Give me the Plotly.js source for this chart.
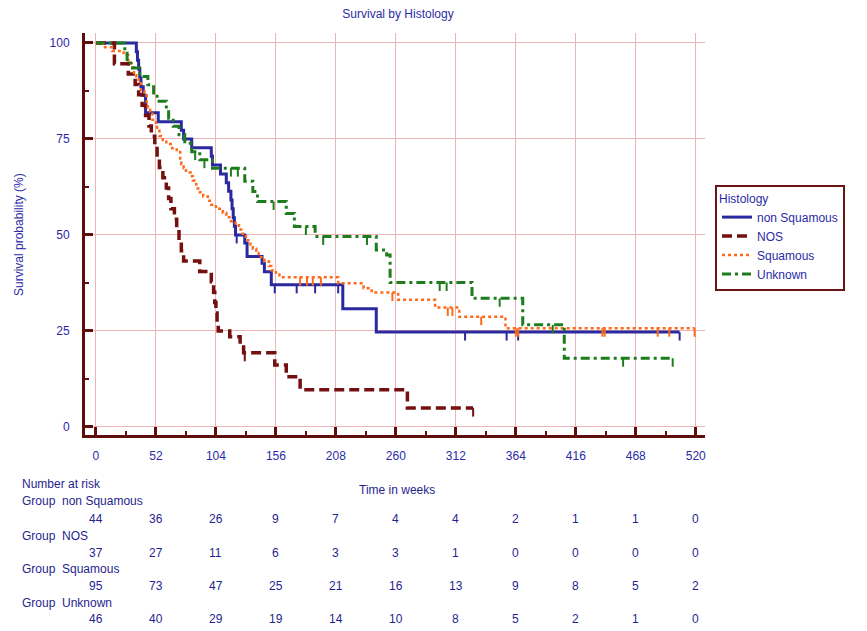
<!DOCTYPE html>
<html>
<head>
<meta charset="utf-8">
<script src="https://cdn.plot.ly/plotly-3.0.1.min.js"></script>
<style>html,body{margin:0;padding:0;background:#fff;}#chart{width:867px;height:631px;}</style>
</head>
<body>
<div id="chart"></div>
<script>
// ---- data ----
const weekTicks = [0, 52, 104, 156, 208, 260, 312, 364, 416, 468, 520];
const survTicks = [0, 25, 50, 75, 100];
const groupNames = ["non Squamous", "NOS", "Squamous", "Unknown"];

const nonSqTimes = [0, 35, 36, 37, 38, 39, 41, 43, 54, 74, 76, 83, 100, 101, 108, 113, 115, 117, 118, 119, 120, 121, 129, 131, 144, 146, 152, 214, 243, 506];
const nonSqSurv  = [100, 97.7, 95.5, 93.2, 90.9, 88.6, 86.4, 81.8, 79.5, 77.3, 75.0, 72.7, 70.5, 68.2, 65.9, 63.6, 61.4, 59.1, 56.8, 54.5, 52.3, 50.0, 47.9, 44.4, 42.6, 40.4, 37.0, 30.8, 24.7, 24.7];
const nonSqCensor = [122, 155, 174, 190, 210, 320, 356, 366, 506];

const nosTimes = [0, 16, 28, 34, 37, 40, 43, 46, 48, 51, 53, 55, 58, 61, 63, 65, 68, 70, 72, 74, 76, 90, 100, 102, 103, 104, 105, 106, 116, 125, 128, 155, 165, 177, 270, 327];
const nosSurv  = [100, 94.6, 91.9, 89.2, 86.5, 83.8, 81.1, 78.4, 75.7, 73.0, 70.3, 67.6, 64.9, 62.2, 59.5, 56.8, 54.1, 51.4, 48.6, 45.9, 43.2, 40.5, 37.8, 35.1, 32.4, 29.7, 27.0, 25.0, 23.5, 21.4, 19.3, 16.1, 13.1, 9.7, 4.9, 4.9];
const nosCensor = [129, 327];

const sqTimes = [0, 6, 14, 24, 28, 31, 33, 35, 37, 39, 42, 44, 45, 47, 49, 52, 53, 55, 58, 61, 66, 70, 73, 74, 76, 78, 82, 84, 87, 90, 93, 97, 100, 104, 110, 113, 117, 121, 124, 127, 130, 134, 136, 139, 141, 146, 150, 152, 156, 159, 210, 232, 239, 262, 294, 315, 355, 519];
const sqSurv  = [100, 98.9, 97.9, 96.8, 94.7, 93.7, 91.6, 90.5, 89.5, 87.4, 86.3, 84.2, 83.2, 82.1, 80.0, 78.9, 77.9, 75.8, 74.7, 73.7, 72.6, 71.6, 69.5, 68.4, 67.4, 66.3, 65.3, 64.2, 62.1, 61.1, 60.0, 58.9, 57.9, 56.8, 55.7, 54.6, 53.6, 52.5, 51.4, 50.3, 48.6, 47.5, 46.4, 45.3, 44.2, 43.1, 41.9, 40.8, 39.7, 39.0, 37.4, 36.1, 35.0, 33.1, 31.1, 28.7, 25.7, 25.7];
const sqCensor = [177, 183, 188, 195, 257, 305, 309, 334, 364, 366, 439, 441, 487, 497, 519];

const unkTimes = [0, 25, 27, 30, 38, 45, 50, 53, 61, 63, 67, 72, 77, 83, 90, 101, 129, 136, 140, 165, 172, 190, 243, 252, 255, 326, 370, 406, 500];
const unkSurv  = [100, 97.8, 95.7, 93.5, 91.3, 89.1, 87.0, 84.8, 82.6, 80.4, 78.3, 76.1, 73.9, 71.7, 69.6, 67.4, 64.0, 61.3, 58.7, 55.6, 52.2, 49.6, 46.1, 44.8, 37.6, 33.5, 26.6, 17.9, 17.9];
const unkCensor = [86, 94, 117, 123, 154, 182, 197, 235, 298, 304, 350, 396, 457, 500];

const riskNonSq = [44, 36, 26, 9, 7, 4, 4, 2, 1, 1, 0];
const riskNOS   = [37, 27, 11, 6, 3, 3, 1, 0, 0, 0, 0];
const riskSq    = [95, 73, 47, 25, 21, 16, 13, 9, 8, 5, 2];
const riskUnk   = [46, 40, 29, 19, 14, 10, 8, 5, 2, 1, 0];

// ---- styles ----
const FONT = "Liberation Sans, Arial, sans-serif";
const TXT = "#2b2ba6";
const TABLE_TXT = "#1f1f8f";
const AXIS = "#5e0c0c";
const GRID = "#ecb4b4";
const colors = ["#2a2a9e", "#741010", "#ff6a1a", "#1d7d1d"];
const widths = [3, 3.5, 2.5, 3];
const dashes = ["solid", "10px,5px", "3px,3px", "9px,4px,3px,4px"];
const TICK_DROP = 2.2;

function stepAt(times, surv, t) {
  let v = surv[0];
  for (let i = 0; i < times.length; i++) { if (times[i] <= t) v = surv[i]; }
  return v;
}

const groups = [
  [nonSqTimes, nonSqSurv, nonSqCensor],
  [nosTimes, nosSurv, nosCensor],
  [sqTimes, sqSurv, sqCensor],
  [unkTimes, unkSurv, unkCensor]
];

const traces = [];
groups.forEach((g, i) => {
  traces.push({
    type: "scatter", mode: "lines", name: groupNames[i],
    x: g[0], y: g[1],
    line: {shape: "hv", color: colors[i], width: widths[i], dash: dashes[i]},
    hoverinfo: "skip"
  });
});
groups.forEach((g, i) => {
  const cx = [], cy = [];
  g[2].forEach(t => {
    const s = stepAt(g[0], g[1], t);
    cx.push(t, t, null); cy.push(s, s - TICK_DROP, null);
  });
  traces.push({
    type: "scatter", mode: "lines", showlegend: false,
    x: cx, y: cy, line: {color: colors[i], width: 2}, hoverinfo: "skip"
  });
});

// ---- layout geometry (pixels) ----
const W = 867, H = 631, L = 85, R = 162, T = 33, B = 196;
const plotW = W - L - R, plotH = H - T - B;
const px2x = p => (p - L) / plotW;
const py2y = p => (H - B - p) / plotH;

const annotations = [];
annotations.push({xref: "paper", yref: "paper", x: px2x(19), y: py2y(235), text: "Survival probability (%)",
  textangle: -90, showarrow: false, xanchor: "center", yanchor: "middle", font: {family: FONT, size: 12, color: TXT}});
annotations.push({xref: "paper", yref: "paper", x: px2x(397), y: py2y(490), text: "Time in weeks",
  showarrow: false, xanchor: "center", yanchor: "middle", font: {family: FONT, size: 12, color: TABLE_TXT}});
annotations.push({xref: "paper", yref: "paper", x: px2x(20), y: py2y(484), text: "Number at risk",
  showarrow: false, xanchor: "left", yanchor: "middle", font: {family: FONT, size: 12, color: TABLE_TXT}});

const riskRows = [riskNonSq, riskNOS, riskSq, riskUnk];
const labelY = [501, 536, 569, 603];
const rowY = [519, 553, 586, 619];
riskRows.forEach((row, gi) => {
  annotations.push({xref: "paper", yref: "paper", x: px2x(20), y: py2y(labelY[gi]),
    text: "Group\u00a0 " + groupNames[gi], showarrow: false, xanchor: "left", yanchor: "middle",
    font: {family: FONT, size: 12, color: TABLE_TXT}});
  row.forEach((v, k) => {
    annotations.push({xref: "x", yref: "paper", x: weekTicks[k], y: py2y(rowY[gi]),
      text: String(v), showarrow: false, xanchor: "center", yanchor: "middle",
      font: {family: FONT, size: 12, color: TABLE_TXT}});
  });
});

const layout = {
  width: W, height: H,
  margin: {l: L, r: R, t: T, b: B, pad: 0},
  paper_bgcolor: "#ffffff", plot_bgcolor: "#ffffff",
  showlegend: true,
  title: {text: "Survival by Histology", x: 398 / W, xanchor: "center", xref: "container",
    y: 1 - 14 / H, yanchor: "middle", yref: "container", font: {family: FONT, size: 12, color: TXT}},
  xaxis: {
    range: [-9.5, 528], tickvals: weekTicks, ticktext: weekTicks.map(String),
    showgrid: true, gridcolor: GRID, gridwidth: 1, zeroline: false,
    showline: true, linecolor: AXIS, linewidth: 3,
    ticks: "inside", ticklen: 8, tickwidth: 3, tickcolor: AXIS,
    minor: {ticks: "inside", ticklen: 4, tickwidth: 2, tickcolor: AXIS, dtick: 26, tick0: 0, showgrid: false},
    ticklabelstandoff: 8,
    tickfont: {family: FONT, size: 12, color: TXT}, fixedrange: true
  },
  yaxis: {
    range: [-2.1, 102.6], tickvals: survTicks, ticktext: survTicks.map(String),
    showgrid: true, gridcolor: GRID, gridwidth: 1, zeroline: false,
    showline: true, linecolor: AXIS, linewidth: 3,
    ticks: "inside", ticklen: 8, tickwidth: 3, tickcolor: AXIS,
    minor: {ticks: "inside", ticklen: 4, tickwidth: 2, tickcolor: AXIS, dtick: 12.5, tick0: 0, showgrid: false},
    ticklabelstandoff: 10,
    tickfont: {family: FONT, size: 12, color: TXT}, fixedrange: true
  },
  legend: {
    x: px2x(715), y: py2y(185), xanchor: "left", yanchor: "top",
    bgcolor: "#ffffff", bordercolor: "#6a1414", borderwidth: 2,
    title: {text: "Histology", font: {family: FONT, size: 12, color: TXT}},
    font: {family: FONT, size: 12, color: TXT}, tracegroupgap: 0
  },
  annotations: annotations
};

Plotly.newPlot("chart", traces, layout, {displayModeBar: false, staticPlot: true});
</script>
</body>
</html>
